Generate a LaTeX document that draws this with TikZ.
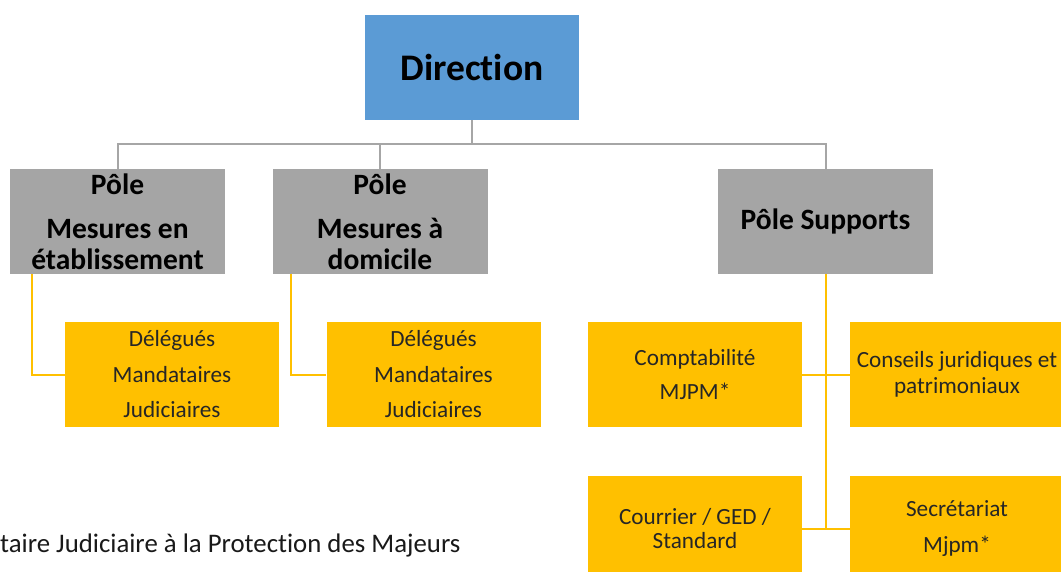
\documentclass[tikz,border=0pt]{standalone}
\usepackage{fontspec}
\setmainfont{Carlito}[Ligatures=NoCommon]
\definecolor{dirblue}{HTML}{5B9BD5}
\definecolor{polegray}{HTML}{A5A5A5}
\definecolor{gold}{HTML}{FFC000}
\definecolor{linegray}{HTML}{A6A6A6}
\definecolor{darktext}{HTML}{262626}
\tikzset{
  dirbox/.style={fill=dirblue, inner sep=0pt, minimum width=214pt, minimum height=105pt, align=center, font=\bfseries\fontsize{37.5}{40}\selectfont},
  polebox/.style={fill=polegray, inner sep=0pt, minimum width=215pt, minimum height=105pt, align=center, font=\bfseries\fontsize{29.5}{31}\selectfont},
  unitbox/.style={fill=gold, inner sep=0pt, minimum width=214pt, minimum height=105pt, align=center, text=darktext},
  gline/.style={draw=linegray, line width=2pt},
  yline/.style={draw=gold, line width=2pt},
}
\begin{document}
\begin{tikzpicture}[x=1pt,y=-1pt]
\useasboundingbox (0,0) rectangle (1061,571);
\clip (0,0) rectangle (1061,571);
\fill[white] (0,0) rectangle (1061,571);
% boxes
\node[dirbox] (dir) at (472,67.5) {Direction};
\node[polebox] (p1) at (117.5,221.5) {Pôle\\[13pt]Mesures en\\établissement};
\node[polebox] (p2) at (380,221.5) {Pôle\\[13pt]Mesures à\\domicile};
\node[polebox] (p3) at (825.5,221.5) {Pôle Supports};
\node[unitbox, font=\fontsize{23.2}{35.5}\selectfont] (y1) at (172,374.5) {Délégués\\Mandataires\\Judiciaires};
\node[unitbox, font=\fontsize{23.2}{35.5}\selectfont] (y2) at (433.5,374.5) {Délégués\\Mandataires\\Judiciaires};
\node[unitbox, font=\fontsize{23.2}{34}\selectfont] (c1) at (695,374.5) {Comptabilité\\MJPM*};
\node[unitbox, font=\fontsize{23.2}{25.5}\selectfont] (c2) at (957,374.5) {Conseils juridiques et\\patrimoniaux};
\node[unitbox, font=\fontsize{23.2}{24}\selectfont] (c3) at (695,528.5) {Courrier / GED /\\Standard};
\node[unitbox, font=\fontsize{23.2}{36}\selectfont] (c4) at (957,528.5) {Secrétariat\\Mjpm*};
% connectors
\coordinate (bus) at (472,144);
\draw[gline] (dir.south) -- (bus);
\draw[gline] (p1.north) |- (bus) -| (p3.north);
\draw[gline] (p2.north) -- (p2.north |- bus);
\coordinate (s1) at ([xshift=22pt]p1.south west);
\coordinate (s2) at ([xshift=19pt]p2.south west);
\draw[yline] (s1) |- (y1.west);
\draw[yline] (s2) |- (y2.west);
\coordinate (trunkend) at (p3.south |- c3.east);
\draw[yline] (p3.south) -- (trunkend);
\draw[yline] (c1.east) -- (c2.west);
\draw[yline] (c3.east) -- (c4.west);
% footnote
\node[anchor=base west, inner sep=0pt, font=\fontsize{26.8}{30}\selectfont, text=black!90] (note) at (0,552) {taire Judiciaire à la Protection des Majeurs};
\end{tikzpicture}
\end{document}
